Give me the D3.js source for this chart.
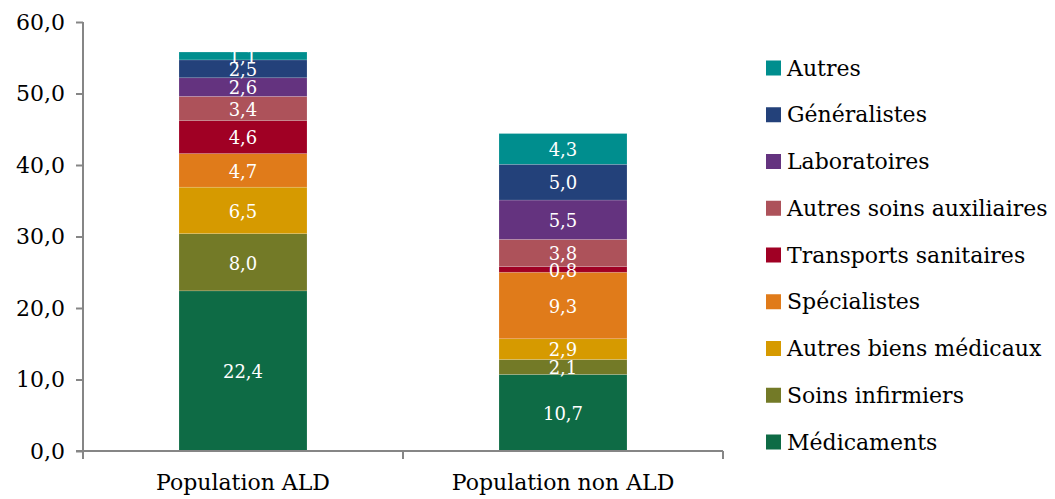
<!DOCTYPE html>
<html><head><meta charset="utf-8">
<script src="https://cdn.jsdelivr.net/npm/d3@7"></script>
<style>body{margin:0;background:#fff}svg{display:block}</style>
</head><body><svg id="c" width="1055" height="499"></svg>
<script>
const categories = ["Population ALD", "Population non ALD"];
const seriesNames = ["Médicaments","Soins infirmiers","Autres biens médicaux","Spécialistes","Transports sanitaires","Autres soins auxiliaires","Laboratoires","Généralistes","Autres"];
const seriesColors = ["#0e6b45","#737a27","#d69a00","#e07b1a","#a00024","#ad525a","#64337f","#23417a","#008e8e"];
const valuesALD = [22.4, 8.0, 6.5, 4.7, 4.6, 3.4, 2.6, 2.5, 1.1];
const valuesNonALD = [10.7, 2.1, 2.9, 9.3, 0.8, 3.8, 5.5, 5.0, 4.3];
const yTicks = [0,10,20,30,40,50,60];

const font = "'DejaVu Serif', serif";
const svg = d3.select("#c");
const fmt = v => d3.format(".1f")(v).replace(".", ",");

const x = d3.scaleBand().domain(categories).range([83, 723]).padding(0);
const y = d3.scaleLinear().domain([0, 60]).range([451, 22]);

const rows = categories.map((c, i) => {
  const vals = i === 0 ? valuesALD : valuesNonALD;
  const r = {cat: c};
  seriesNames.forEach((s, j) => r[s] = vals[j]);
  return r;
});
const stacked = d3.stack().keys(seriesNames)(rows);

const barW = x.bandwidth() * 0.4;
const g = svg.append("g");
stacked.forEach((layer, j) => {
  layer.forEach(d => {
    const cx = x(d.data.cat) + x.bandwidth() / 2;
    g.append("rect")
      .attr("x", cx - barW / 2).attr("width", barW)
      .attr("y", y(d[1])).attr("height", y(d[0]) - y(d[1]))
      .attr("fill", seriesColors[j])
      .attr("stroke", "rgba(255,255,255,0.25)").attr("stroke-width", 0.6);
  });
});
stacked.forEach((layer, j) => {
  layer.forEach(d => {
    const cx = x(d.data.cat) + x.bandwidth() / 2;
    g.append("text")
      .attr("x", cx).attr("y", (y(d[0]) + y(d[1])) / 2 + 1)
      .attr("dy", "0.35em").attr("text-anchor", "middle")
      .attr("font-family", font).attr("font-size", 18).attr("fill", "#fff")
      .text(fmt(d[1] - d[0]));
  });
});

// Y axis
const yAxis = svg.append("g").attr("transform", "translate(83,0)")
  .call(d3.axisLeft(y).tickValues(yTicks).tickFormat(fmt).tickSize(7).tickPadding(11));
yAxis.select(".domain").attr("stroke", "#868686").attr("stroke-width", 2).attr("d", "M0,22V459");
yAxis.selectAll(".tick line").attr("stroke", "#868686").attr("stroke-width", 2);
yAxis.selectAll("text").attr("font-family", font).attr("font-size", 22).attr("fill", "#000");

// X axis
const xAxis = svg.append("g").attr("transform", "translate(0,451)");
xAxis.append("line").attr("x1", 76).attr("x2", 723).attr("stroke", "#868686").attr("stroke-width", 2);
[83, 403, 723].forEach(v => {
  xAxis.append("line").attr("x1", v).attr("x2", v).attr("y1", 0).attr("y2", 8)
    .attr("stroke", "#868686").attr("stroke-width", 2);
});
categories.forEach(c => {
  xAxis.append("text").attr("x", x(c) + x.bandwidth() / 2).attr("y", 39)
    .attr("text-anchor", "middle").attr("font-family", font).attr("font-size", 22).attr("fill", "#000")
    .text(c);
});

// Legend
const legendOrder = seriesNames.slice().reverse();
const leg = svg.append("g");
legendOrder.forEach((s, i) => {
  const cy = 68 + i * 46.75;
  const j = seriesNames.indexOf(s);
  leg.append("rect").attr("x", 766).attr("y", cy - 7.5).attr("width", 15).attr("height", 15).attr("fill", seriesColors[j]);
  leg.append("text").attr("x", 787).attr("y", cy).attr("dy", "0.35em")
    .attr("font-family", font).attr("font-size", 22).attr("fill", "#000").text(s);
});
</script></body></html>
